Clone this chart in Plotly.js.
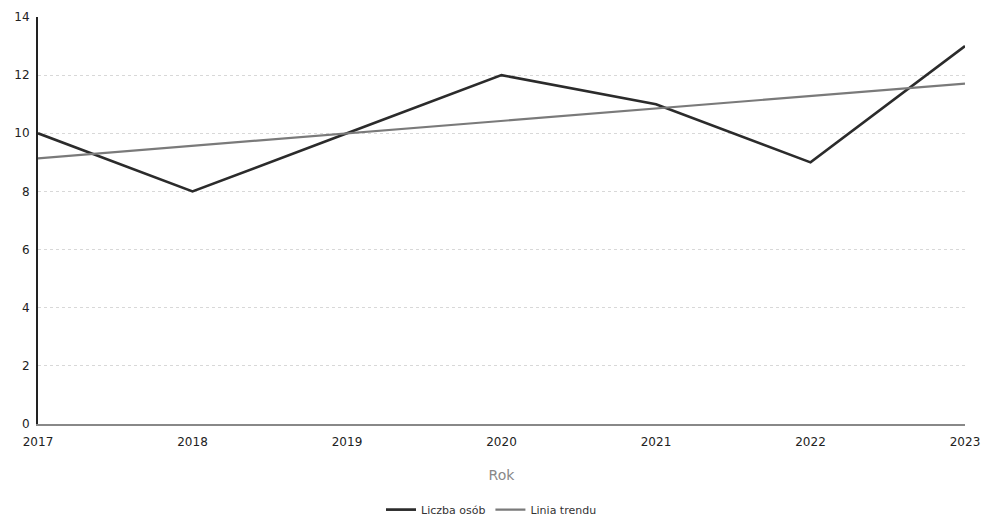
<!DOCTYPE html>
<html><head><meta charset="utf-8">
<script src="https://cdn.plot.ly/plotly-3.0.1.min.js"></script>
<style>html,body{margin:0;padding:0;background:#fff}#c{width:983px;height:519px}</style>
</head><body><div id="c"></div>
<script>
const years = [2017, 2018, 2019, 2020, 2021, 2022, 2023];
const liczbaOsob = [10, 8, 10, 12, 11, 9, 13];
const liniaTrendu = [9.14, 9.57, 10.0, 10.43, 10.86, 11.29, 11.71];
const yTicks = [0, 2, 4, 6, 8, 10, 12, 14];

const traces = [
  {x: years, y: liczbaOsob, type: 'scatter', mode: 'lines', name: 'Liczba osób',
   line: {color: '#2b2b2b', width: 2.6}},
  {x: years, y: liniaTrendu, type: 'scatter', mode: 'lines', name: 'Linia trendu',
   line: {color: '#7a7a7a', width: 2.2}}
];
const layout = {
  width: 983, height: 519,
  margin: {l: 38, r: 18, t: 17, b: 95, autoexpand: false},
  paper_bgcolor: '#fff', plot_bgcolor: '#fff',
  font: {family: 'DejaVu Sans, sans-serif', size: 12, color: '#222'},
  xaxis: {range: [2017, 2023], tickvals: years, ticktext: years.map(String),
    showgrid: false, zeroline: false, showline: true, linecolor: '#888', linewidth: 1.5,
    ticks: '', ticklen: 0, ticklabelstandoff: 6, tickfont: {size: 12, color: '#222'},
    title: {text: 'Rok', font: {size: 14, color: '#888'}, standoff: 22}},
  yaxis: {range: [0, 14], tickvals: yTicks, showgrid: true, gridcolor: '#d8d8d8',
    griddash: 'dot', gridwidth: 1, zeroline: false, showline: true, linecolor: '#222',
    linewidth: 2, ticks: '', ticklabelstandoff: 4, tickfont: {size: 12, color: '#222'}},
  showlegend: true,
  legend: {orientation: 'h', x: 0.5, xanchor: 'center', xref: 'container',
    yref: 'container', y: 0.018, yanchor: 'middle',
    itemwidth: 30, font: {size: 11, color: '#333'}}
};
Plotly.newPlot('c', traces, layout, {displayModeBar: false, staticPlot: true});
</script>
</body></html>
